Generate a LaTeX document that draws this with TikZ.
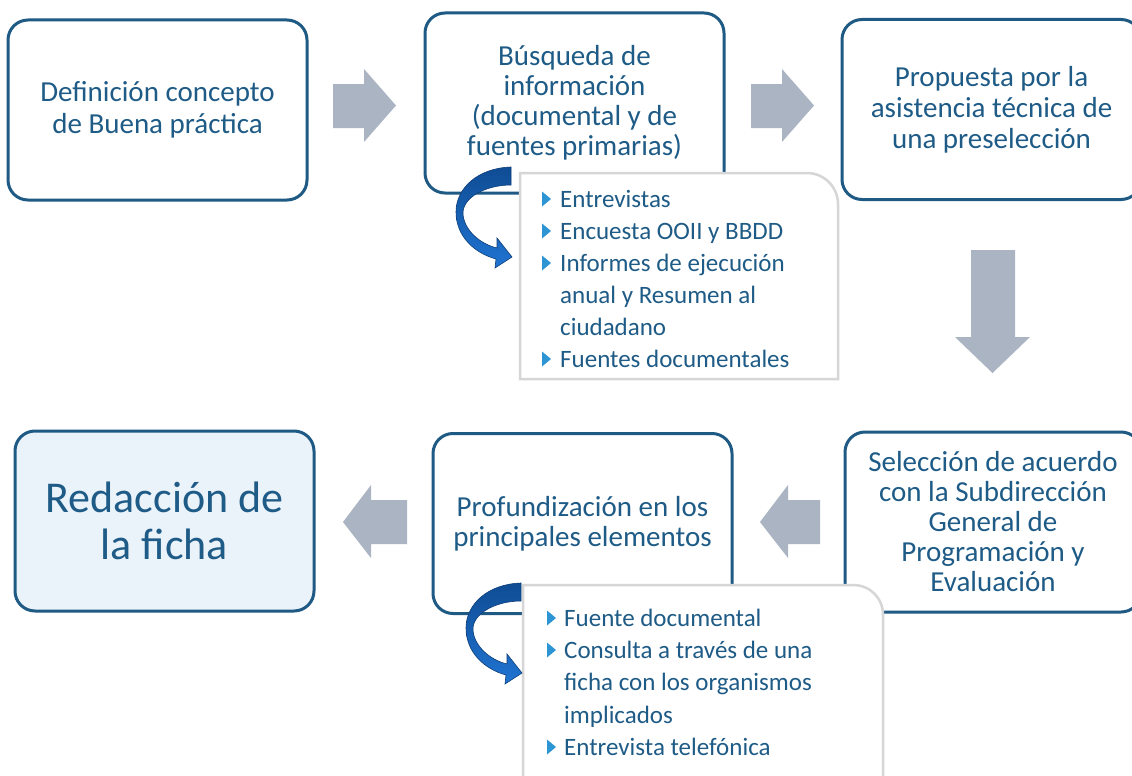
\documentclass[tikz,border=0pt]{standalone}
\usepackage{fontspec}
\setmainfont{Carlito}
\definecolor{boxc}{HTML}{1F5A85}
\definecolor{txtc}{HTML}{1E5B86}
\definecolor{grayar}{HTML}{AAB4C2}
\definecolor{subc}{HTML}{D6D6D6}
\definecolor{bulc}{HTML}{2E95D4}
\definecolor{fillc}{HTML}{EAF2FA}
\definecolor{arrdark}{HTML}{0F4C94}
\definecolor{arrlight}{HTML}{2074D2}
\definecolor{arredge}{HTML}{0D3E78}
\newcommand\bultri[2]{\fill[bullet] (#1,#2) ++(0,-0.5) -- ++(9,-7.5) -- ++(-9,-7.5) -- cycle;}
\newcommand\curvedarrowpath{(511,167) .. controls (478,168) and (456,188) .. (456,212) .. controls (456,236) and (474,253) .. (496,259) -- (495,268) -- (512,257) -- (497,238) -- (497,248) .. controls (480,244) and (464,230) .. (463,214) .. controls (462,198) and (485,185) .. (511,185) -- cycle}
\begin{document}
\begin{tikzpicture}[x=1pt,y=-1pt,
 mainbox/.style={draw=boxc, line width=3pt, rounded corners=20pt, minimum width=299pt, minimum height=180pt, inner sep=0pt, align=center, text=txtc, font=\fontsize{29}{30}\selectfont},
 grayarrow/.style={fill=grayar},
 subbox/.style={draw=subc, line width=2.5pt, fill=white},
 itemtext/.style={anchor=base west, inner sep=0pt, text=txtc, font=\fontsize{25}{32}\selectfont},
 bullet/.style={fill=bulc},
 curvearrow/.style={draw=arredge, line width=0.6pt, top color=arrdark, bottom color=arrlight}
]
\useasboundingbox (0,0) rectangle (1132,776);
\fill[white] (0,0) rectangle (1132,776);

% main boxes
\node[mainbox, font=\fontsize{29}{32}\selectfont] (b1) at (157.5,110) {Definición concepto\\de Buena práctica};
\node[mainbox] (b2) at (574.5,103) {Búsqueda de\\información\\(documental y de\\fuentes primarias)};
\node[mainbox, font=\fontsize{29}{31}\selectfont] (b3) at (991.5,109.5) {Propuesta por la\\asistencia técnica de\\una preselección};
\node[mainbox, minimum width=296pt] (b4) at (993,522) {Selección de acuerdo\\con la Subdirección\\General de\\Programación y\\Evaluación};
\node[mainbox] (b5) at (582.5,523.5) {Profundización en los\\principales elementos};
\node[mainbox, fill=fillc, font=\fontsize{44}{47}\selectfont] (b6) at (164.5,521) {Redacción de\\la ficha};

% gray block arrows
\fill[grayarrow] (333,84) -- (364,84) -- (364,69) -- (396,105.5) -- (364,142) -- (364,128) -- (333,128) -- cycle;
\fill[grayarrow] (751,84) -- (782,84) -- (782,69) -- (814,105.5) -- (782,142) -- (782,128) -- (751,128) -- cycle;
\fill[grayarrow] (971,250) -- (1015,250) -- (1015,337) -- (1030,337) -- (992.5,373) -- (955,337) -- (971,337) -- cycle;
\fill[grayarrow] (820,500) -- (788,500) -- (788,485) -- (760,522) -- (788,558) -- (788,544) -- (820,544) -- cycle;
\fill[grayarrow] (407,500) -- (371,500) -- (371,485) -- (343,522) -- (371,558) -- (371,544) -- (407,544) -- cycle;

% sub boxes
\draw[subbox] (520,379) -- (520,173) -- (807,173) .. controls (824,173) and (838,187) .. (838,204) -- (838,379) -- cycle;
\draw[subbox] (523,800) -- (523,585) -- (853,585) .. controls (870,585) and (883,598) .. (883,615) -- (883,800);

% list 1
\bultri{542}{207}
\node[itemtext] (l1a) at (560,207) {Entrevistas};
\bultri{542}{239}
\node[itemtext] (l1b) at (560,239) {Encuesta OOII y BBDD};
\bultri{542}{271}
\node[itemtext] (l1c) at (560,271) {Informes de ejecución};
\node[itemtext] (l1d) at (560,303) {anual y Resumen al};
\node[itemtext] (l1e) at (560,335) {ciudadano};
\bultri{542}{367}
\node[itemtext] (l1f) at (560,367) {Fuentes documentales};

% list 2
\bultri{547}{626}
\node[itemtext] (l2a) at (564,626) {Fuente documental};
\bultri{547}{658}
\node[itemtext] (l2b) at (564,658) {Consulta a través de una};
\node[itemtext] (l2c) at (564,690) {ficha con los organismos};
\node[itemtext] (l2d) at (564,723) {implicados};
\bultri{547}{755}
\node[itemtext] (l2e) at (564,755) {Entrevista telefónica};

% curved arrows
\path[curvearrow] \curvedarrowpath;
\begin{scope}[shift={(10,416)}]
\path[curvearrow] \curvedarrowpath;
\end{scope}
\end{tikzpicture}
\end{document}
